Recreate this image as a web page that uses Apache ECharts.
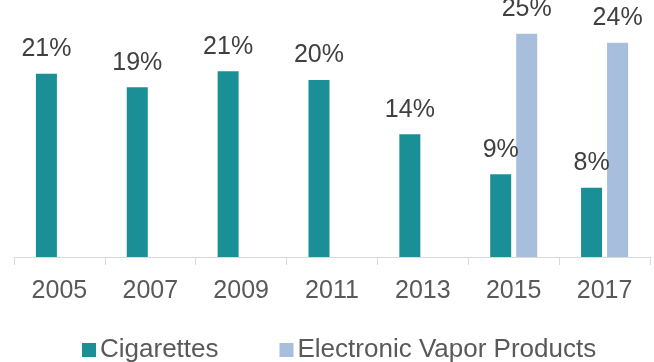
<!DOCTYPE html>
<html>
<head>
<meta charset="utf-8">
<script src="https://cdn.jsdelivr.net/npm/echarts@6/dist/echarts.min.js"></script>
<style>html,body{margin:0;padding:0;background:#fff}#c{width:654px;height:362px}</style>
</head>
<body>
<div id="c"></div>
<script>
const years = ['2005','2007','2009','2011','2013','2015','2017'];
const cigarettes = [20.6, 19.1, 20.9, 19.9, 13.8, 9.3, 7.8];
const vapor = [null, null, null, null, null, 25.1, 24.1];
const seriesNames = ['Cigarettes', 'Electronic Vapor Products'];

const chart = echarts.init(document.getElementById('c'), null, {renderer: 'canvas'});
const labelStyle = {
  show: true, position: 'top', distance: 12,
  fontFamily: 'Liberation Sans, Arial, sans-serif', fontSize: 25, color: '#404040',
  formatter: p => p.value == null ? '' : Math.round(p.value) + '%'
};
chart.setOption({
  animation: false,
  grid: {left: 14, right: 4, top: 8, bottom: 105, containLabel: false},
  legend: {
    left: 77, top: 332, itemWidth: 14, itemHeight: 14, itemGap: 61,
    icon: 'rect',
    textStyle: {fontFamily: 'Liberation Sans, Arial, sans-serif', fontSize: 26, color: '#595959', padding: [0,0,0,-1]},
    data: seriesNames
  },
  xAxis: {
    type: 'category', data: years,
    axisLine: {lineStyle: {color: '#D9D9D9', width: 1}},
    axisTick: {show: true, length: 8, lineStyle: {color: '#D9D9D9'}},
    axisLabel: {fontFamily: 'Liberation Sans, Arial, sans-serif', fontSize: 25, color: '#595959', margin: 22}
  },
  yAxis: {type: 'value', min: 0, max: 28, show: false, splitLine: {show: false}},
  series: [
    {name: seriesNames[0], type: 'bar', data: cigarettes, barWidth: 21, barGap: '24%',
     itemStyle: {color: '#1B8F96'}, label: labelStyle},
    {name: seriesNames[1], type: 'bar', data: vapor, barWidth: 21,
     itemStyle: {color: '#A7BEDD'}, label: labelStyle}
  ]
});
</script>
</body>
</html>
